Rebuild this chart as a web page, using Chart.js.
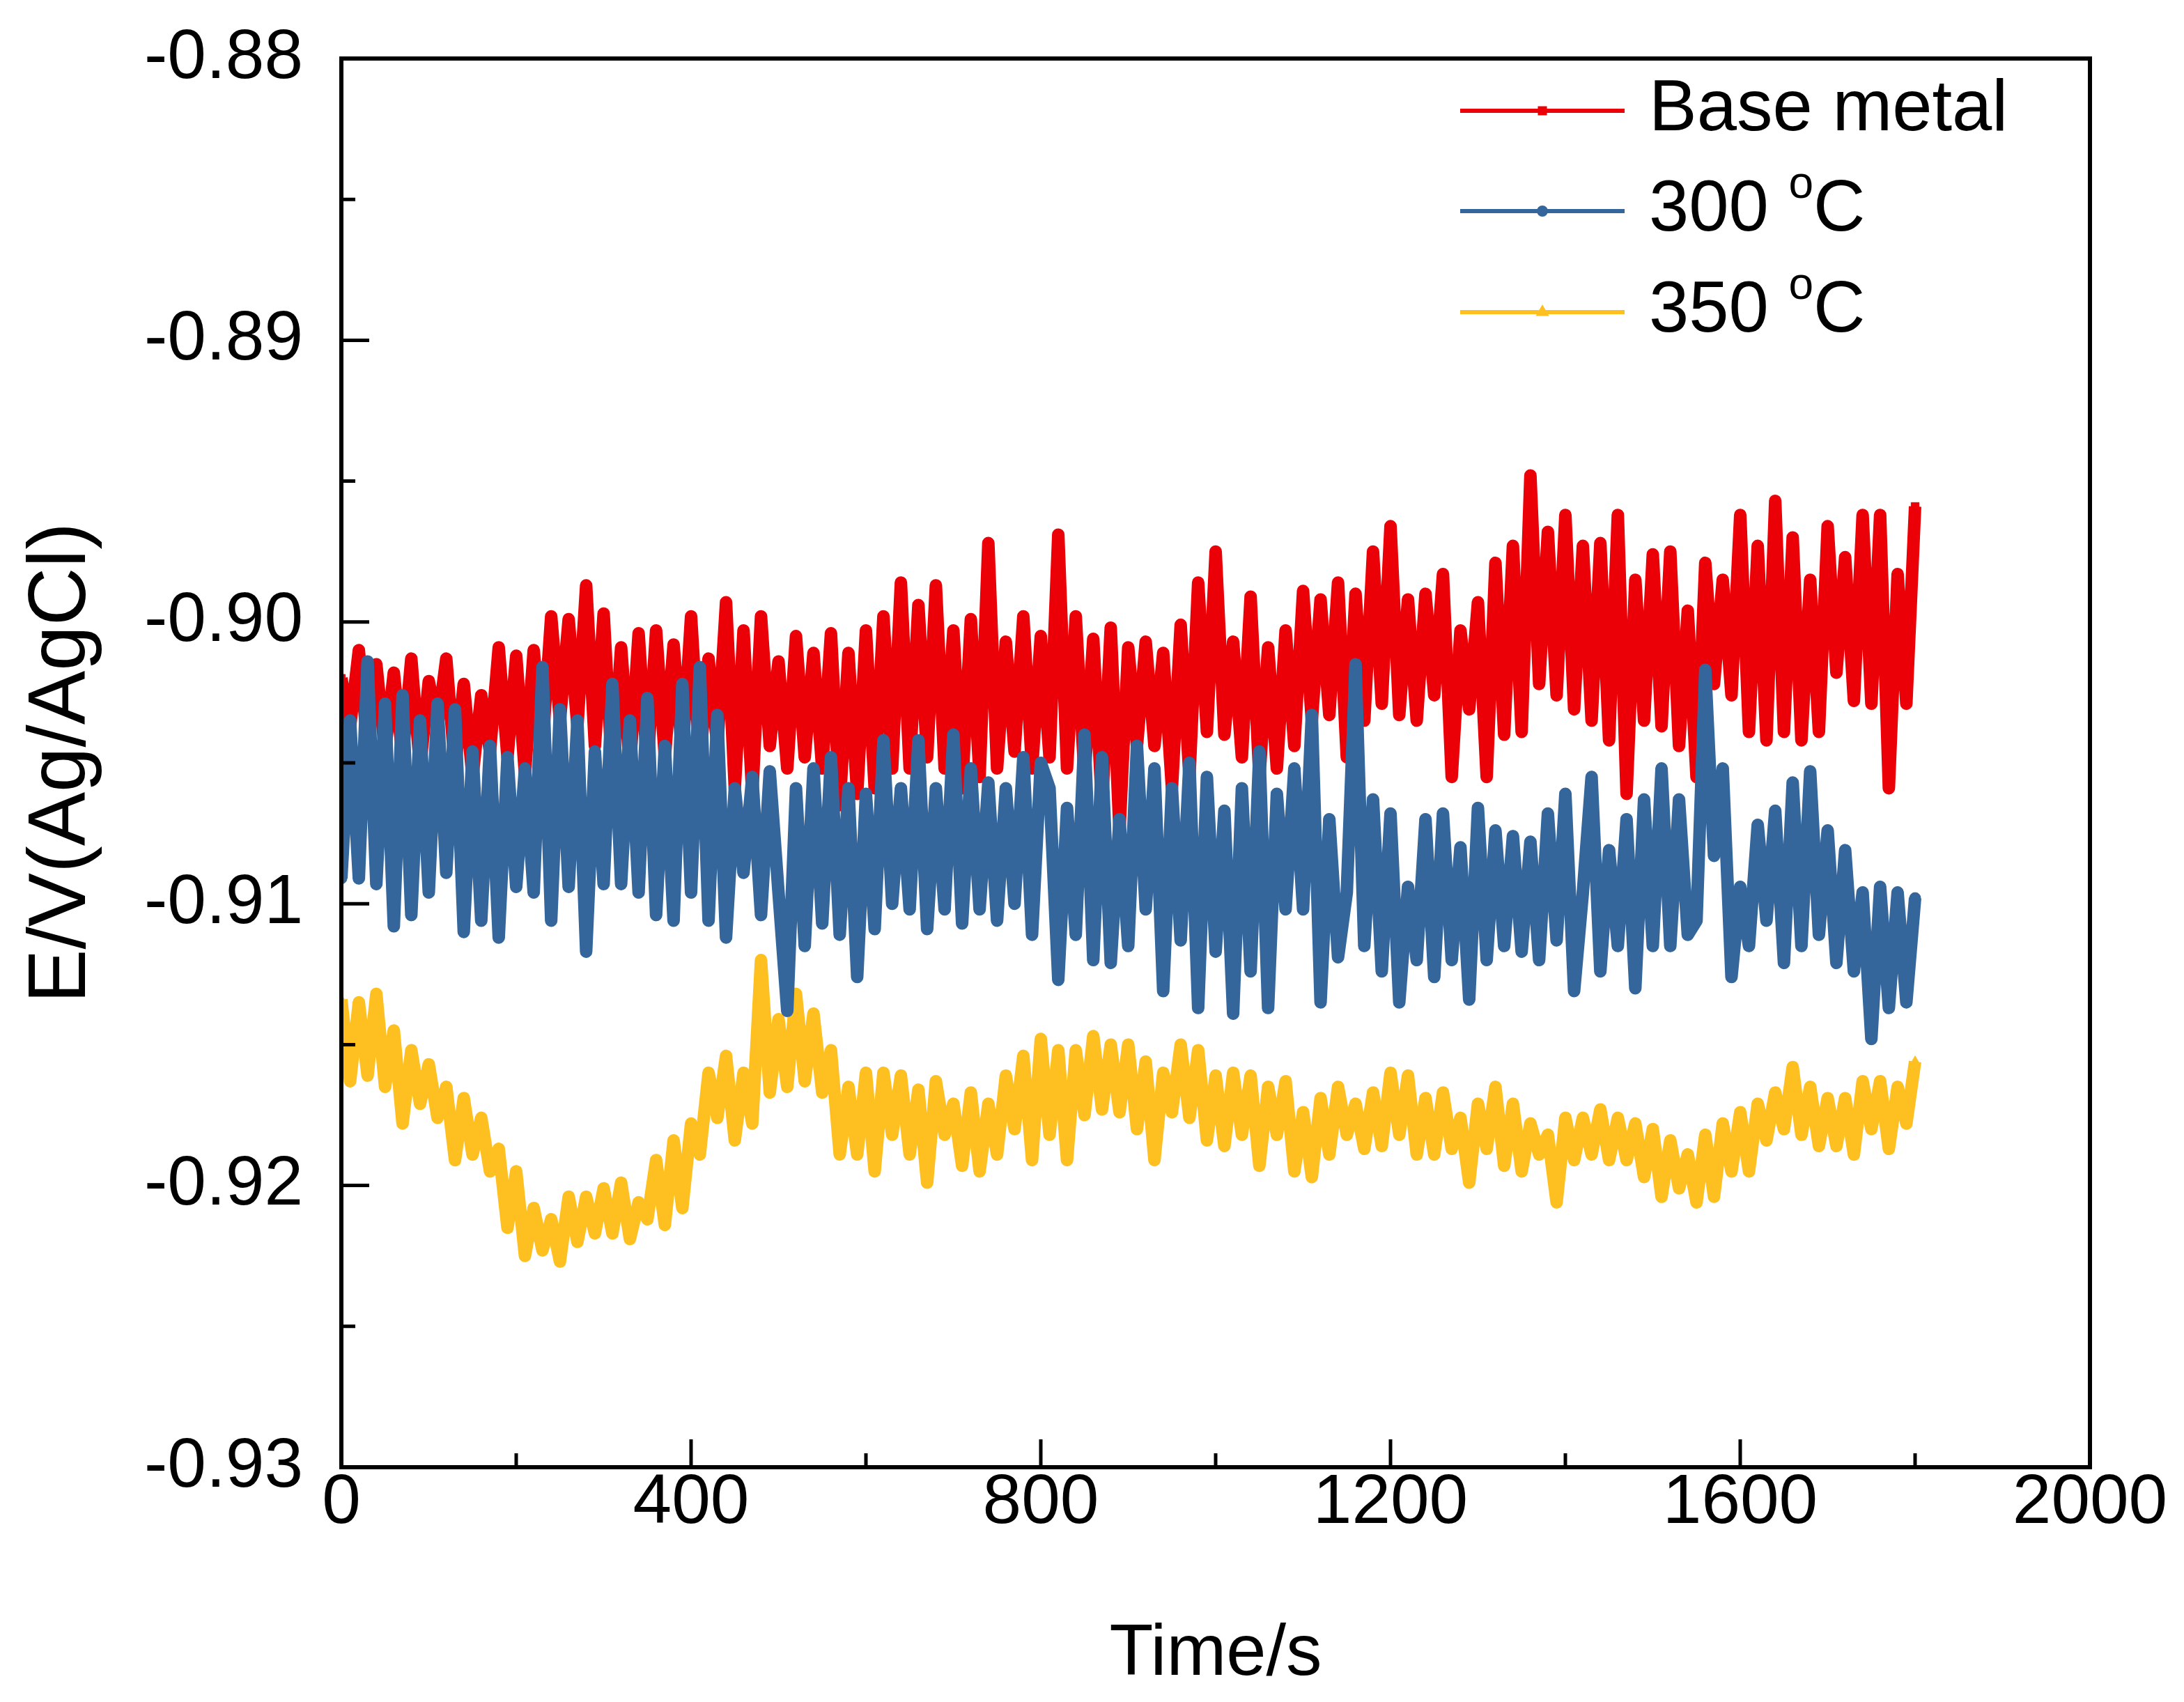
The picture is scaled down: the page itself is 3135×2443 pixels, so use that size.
<!DOCTYPE html>
<html>
<head>
<meta charset="utf-8">
<script src="https://cdn.jsdelivr.net/npm/chart.js@4.4.1/dist/chart.umd.min.js"></script>
<style>
  html, body { margin: 0; padding: 0; background: #fff; }
</style>
</head>
<body>
<canvas id="chart" width="3135" height="2443"></canvas>
<script>
// time stamps (s)
const timeSec = [
  0, 10, 20, 30, 40, 50, 60, 70, 80, 90, 100, 110, 120, 130, 140, 150, 160, 170, 180, 190,
  200, 210, 220, 230, 240, 250, 260, 270, 280, 290, 300, 310, 320, 330, 340, 350, 360, 370, 380, 390,
  400, 410, 420, 430, 440, 450, 460, 470, 480, 490, 500, 510, 520, 530, 540, 550, 560, 570, 580, 590,
  600, 610, 620, 630, 640, 650, 660, 670, 680, 690, 700, 710, 720, 730, 740, 750, 760, 770, 780, 790,
  800, 810, 820, 830, 840, 850, 860, 870, 880, 890, 900, 910, 920, 930, 940, 950, 960, 970, 980, 990,
  1000, 1010, 1020, 1030, 1040, 1050, 1060, 1070, 1080, 1090, 1100, 1110, 1120, 1130, 1140, 1150, 1160, 1170, 1180, 1190,
  1200, 1210, 1220, 1230, 1240, 1250, 1260, 1270, 1280, 1290, 1300, 1310, 1320, 1330, 1340, 1350, 1360, 1370, 1380, 1390,
  1400, 1410, 1420, 1430, 1440, 1450, 1460, 1470, 1480, 1490, 1500, 1510, 1520, 1530, 1540, 1550, 1560, 1570, 1580, 1590,
  1600, 1610, 1620, 1630, 1640, 1650, 1660, 1670, 1680, 1690, 1700, 1710, 1720, 1730, 1740, 1750, 1760, 1770, 1780, 1790,
  1800
];

// E/V(Ag/AgCl) for each sample
const baseMetal = [
  -0.9020, -0.9037, -0.9010, -0.9044, -0.9015, -0.9046, -0.9018, -0.9048, -0.9013, -0.9052,
  -0.9021, -0.9037, -0.9013, -0.9052, -0.9022, -0.9055, -0.9026, -0.9046, -0.9009, -0.9048,
  -0.9012, -0.9054, -0.9010, -0.9044, -0.8998, -0.9035, -0.8999, -0.9037, -0.8987, -0.9044,
  -0.8997, -0.9055, -0.9009, -0.9052, -0.9004, -0.9052, -0.9003, -0.9048, -0.9008, -0.9048,
  -0.8998, -0.9050, -0.9013, -0.9044, -0.8993, -0.9059, -0.9003, -0.9061, -0.8998, -0.9044,
  -0.9014, -0.9052, -0.9005, -0.9048, -0.9011, -0.9052, -0.9004, -0.9065, -0.9011, -0.9061,
  -0.9003, -0.9059, -0.8998, -0.9052, -0.8986, -0.9052, -0.8994, -0.9048, -0.8987, -0.9052,
  -0.9003, -0.9059, -0.8999, -0.9055, -0.8972, -0.9052, -0.9007, -0.9046, -0.8998, -0.9052,
  -0.9005, -0.9048, -0.8969, -0.9052, -0.8998, -0.9055, -0.9006, -0.9065, -0.9002, -0.9074,
  -0.9009, -0.9044, -0.9007, -0.9044, -0.9011, -0.9059, -0.9001, -0.9055, -0.8986, -0.9039,
  -0.8975, -0.9040, -0.9007, -0.9048, -0.8991, -0.9055, -0.9009, -0.9052, -0.9003, -0.9044,
  -0.8989, -0.9035, -0.8992, -0.9033, -0.8986, -0.9048, -0.8990, -0.9035, -0.8975, -0.9029,
  -0.8966, -0.9033, -0.8992, -0.9035, -0.8990, -0.9026, -0.8983, -0.9055, -0.9003, -0.9031,
  -0.8993, -0.9055, -0.8979, -0.9040, -0.8973, -0.9039, -0.8948, -0.9022, -0.8968, -0.9026,
  -0.8962, -0.9031, -0.8973, -0.9035, -0.8972, -0.9042, -0.8962, -0.9061, -0.8985, -0.9035,
  -0.8976, -0.9037, -0.8975, -0.9044, -0.8996, -0.9055, -0.8979, -0.9022, -0.8985, -0.9026,
  -0.8962, -0.9039, -0.8973, -0.9042, -0.8957, -0.9039, -0.8970, -0.9042, -0.8985, -0.9039,
  -0.8966, -0.9018, -0.8977, -0.9028, -0.8962, -0.9029, -0.8962, -0.9059, -0.8983, -0.9029,
  -0.8959
];

const temp300 = [
  -0.9091, -0.9035, -0.9091, -0.9014, -0.9093, -0.9029, -0.9108, -0.9026, -0.9104, -0.9035,
  -0.9096, -0.9029, -0.9089, -0.9031, -0.9110, -0.9046, -0.9106, -0.9044, -0.9112, -0.9048,
  -0.9094, -0.9052, -0.9096, -0.9016, -0.9106, -0.9031, -0.9094, -0.9035, -0.9117, -0.9046,
  -0.9093, -0.9022, -0.9093, -0.9035, -0.9096, -0.9027, -0.9104, -0.9044, -0.9106, -0.9022,
  -0.9096, -0.9016, -0.9106, -0.9033, -0.9112, -0.9059, -0.9089, -0.9055, -0.9104, -0.9053,
  -0.9096, -0.9138, -0.9059, -0.9115, -0.9052, -0.9107, -0.9048, -0.9111, -0.9059, -0.9126,
  -0.9061, -0.9109, -0.9042, -0.9100, -0.9059, -0.9102, -0.9042, -0.9109, -0.9059, -0.9102,
  -0.9040, -0.9107, -0.9052, -0.9102, -0.9057, -0.9106, -0.9059, -0.9100, -0.9048, -0.9111,
  -0.9050, -0.9059, -0.9127, -0.9066, -0.9111, -0.9040, -0.9120, -0.9048, -0.9121, -0.9070,
  -0.9115, -0.9044, -0.9102, -0.9052, -0.9131, -0.9059, -0.9113, -0.9050, -0.9137, -0.9055,
  -0.9117, -0.9067, -0.9139, -0.9059, -0.9124, -0.9046, -0.9137, -0.9061, -0.9102, -0.9052,
  -0.9102, -0.9033, -0.9135, -0.9070, -0.9119, -0.9096, -0.9015, -0.9115, -0.9063, -0.9124,
  -0.9068, -0.9135, -0.9094, -0.9120, -0.9070, -0.9126, -0.9068, -0.9120, -0.9080, -0.9134,
  -0.9066, -0.9120, -0.9074, -0.9115, -0.9076, -0.9117, -0.9078, -0.9120, -0.9068, -0.9113,
  -0.9061, -0.9131, -0.9096, -0.9055, -0.9124, -0.9081, -0.9115, -0.9070, -0.9130, -0.9063,
  -0.9115, -0.9052, -0.9115, -0.9063, -0.9111, -0.9106, -0.9017, -0.9083, -0.9052, -0.9126,
  -0.9094, -0.9115, -0.9072, -0.9106, -0.9067, -0.9121, -0.9057, -0.9115, -0.9053, -0.9111,
  -0.9074, -0.9121, -0.9081, -0.9124, -0.9096, -0.9148, -0.9094, -0.9137, -0.9096, -0.9135,
  -0.9098
];

const temp350 = [
  -0.9134, -0.9163, -0.9135, -0.9161, -0.9132, -0.9165, -0.9145, -0.9178, -0.9152, -0.9171,
  -0.9157, -0.9176, -0.9165, -0.9191, -0.9169, -0.9189, -0.9176, -0.9195, -0.9187, -0.9215,
  -0.9195, -0.9225, -0.9208, -0.9223, -0.9212, -0.9227, -0.9204, -0.9220, -0.9204, -0.9217,
  -0.9201, -0.9217, -0.9199, -0.9219, -0.9206, -0.9212, -0.9191, -0.9214, -0.9184, -0.9208,
  -0.9178, -0.9189, -0.9160, -0.9176, -0.9154, -0.9184, -0.9160, -0.9178, -0.9120, -0.9167,
  -0.9141, -0.9165, -0.9132, -0.9163, -0.9139, -0.9167, -0.9152, -0.9189, -0.9165, -0.9189,
  -0.9160, -0.9195, -0.9160, -0.9182, -0.9161, -0.9189, -0.9166, -0.9199, -0.9163, -0.9182,
  -0.9171, -0.9193, -0.9167, -0.9195, -0.9171, -0.9189, -0.9161, -0.9180, -0.9154, -0.9191,
  -0.9148, -0.9182, -0.9152, -0.9191, -0.9152, -0.9175, -0.9147, -0.9173, -0.9150, -0.9174,
  -0.9150, -0.9180, -0.9156, -0.9191, -0.9160, -0.9174, -0.9150, -0.9176, -0.9152, -0.9184,
  -0.9161, -0.9186, -0.9160, -0.9182, -0.9161, -0.9193, -0.9165, -0.9182, -0.9163, -0.9195,
  -0.9174, -0.9197, -0.9169, -0.9189, -0.9165, -0.9182, -0.9171, -0.9187, -0.9167, -0.9186,
  -0.9160, -0.9182, -0.9161, -0.9189, -0.9169, -0.9189, -0.9167, -0.9187, -0.9176, -0.9199,
  -0.9171, -0.9187, -0.9165, -0.9193, -0.9171, -0.9195, -0.9178, -0.9189, -0.9182, -0.9206,
  -0.9176, -0.9191, -0.9176, -0.9189, -0.9173, -0.9191, -0.9176, -0.9191, -0.9178, -0.9197,
  -0.9180, -0.9204, -0.9184, -0.9201, -0.9189, -0.9206, -0.9182, -0.9204, -0.9178, -0.9195,
  -0.9174, -0.9195, -0.9171, -0.9184, -0.9167, -0.9180, -0.9158, -0.9182, -0.9165, -0.9186,
  -0.9169, -0.9186, -0.9169, -0.9189, -0.9163, -0.9180, -0.9163, -0.9187, -0.9165, -0.9178,
  -0.9156
];

const seriesNames = ['Base metal', '300 °C', '350 °C'];
const seriesColors = ['rgb(236,0,8)', 'rgb(52,102,156)', 'rgb(254,192,32)'];
const seriesMarkers = ['rect', 'circle', 'triangle'];

const xTicks = [0, 400, 800, 1200, 1600, 2000];
const xMinorTicks = [200, 600, 1000, 1400, 1800];
const yTicks = [-0.93, -0.92, -0.91, -0.90, -0.89, -0.88];
const yMinorTicks = [-0.925, -0.915, -0.905, -0.895, -0.885];

const FONT = 'Liberation Sans, Arial, sans-serif';

const toPoints = (vals) => vals.map((v, i) => ({ x: timeSec[i], y: v }));

// Origin-style frame, inward ticks and legend
const framePlugin = {
  id: 'frame',
  afterDraw(chart) {
    const { ctx, chartArea: ca, scales } = chart;
    ctx.save();
    ctx.strokeStyle = '#000';
    ctx.lineCap = 'butt';

    ctx.lineWidth = 5;
    ctx.beginPath();
    yTicks.forEach(v => {
      const y = scales.y.getPixelForValue(v);
      ctx.moveTo(ca.left, y); ctx.lineTo(ca.left + 40, y);
    });
    yMinorTicks.forEach(v => {
      const y = scales.y.getPixelForValue(v);
      ctx.moveTo(ca.left, y); ctx.lineTo(ca.left + 20, y);
    });
    xTicks.forEach(v => {
      const x = scales.x.getPixelForValue(v);
      ctx.moveTo(x, ca.bottom); ctx.lineTo(x, ca.bottom - 40);
    });
    xMinorTicks.forEach(v => {
      const x = scales.x.getPixelForValue(v);
      ctx.moveTo(x, ca.bottom); ctx.lineTo(x, ca.bottom - 20);
    });
    ctx.stroke();

    ctx.lineWidth = 6;
    ctx.strokeRect(ca.left, ca.top, ca.right - ca.left, ca.bottom - ca.top);

    // legend
    const x0 = ca.right - 904;
    const rowY = [ca.top + 75, ca.top + 219, ca.top + 364];
    seriesNames.forEach((name, i) => {
      const y = rowY[i];
      ctx.strokeStyle = seriesColors[i];
      ctx.fillStyle = seriesColors[i];
      ctx.lineWidth = 6;
      ctx.beginPath();
      ctx.moveTo(x0, y); ctx.lineTo(x0 + 236, y);
      ctx.stroke();
      Chart.helpers.drawPoint(ctx, { pointStyle: seriesMarkers[i], radius: 5, borderWidth: 1 }, x0 + 118, y);

      ctx.fillStyle = '#000';
      ctx.textBaseline = 'middle';
      ctx.textAlign = 'left';
      let tx = x0 + 271;
      const parts = name.split('°');
      ctx.font = '103px ' + FONT;
      ctx.fillText(parts[0], tx, y);
      tx += ctx.measureText(parts[0]).width;
      if (parts.length > 1) {
        ctx.font = '64px ' + FONT;
        ctx.fillText('o', tx, y - 37);
        tx += ctx.measureText('o').width;
        ctx.font = '103px ' + FONT;
        ctx.fillText(parts[1], tx, y);
      }
    });
    ctx.restore();
  }
};

const datasets = [baseMetal, temp300, temp350].map((vals, i) => ({
  label: seriesNames[i],
  data: toPoints(vals),
  borderColor: seriesColors[i],
  backgroundColor: seriesColors[i],
  borderWidth: 18,
  borderJoinStyle: 'round',
  pointStyle: seriesMarkers[i],
  pointRadius: 8,
  pointBorderWidth: 1,
  tension: 0,
  order: [3, 1, 2][i]
}));

new Chart(document.getElementById('chart'), {
  type: 'line',
  data: { datasets },
  options: {
    responsive: false,
    animation: false,
    devicePixelRatio: 1,
    layout: { padding: { top: 84, right: 135, left: 0, bottom: 0 } },
    plugins: {
      legend: { display: false },
      tooltip: { enabled: false }
    },
    scales: {
      x: {
        type: 'linear',
        min: 0,
        max: 2000,
        afterFit: (s) => { s.height = 337; },
        afterBuildTicks: (s) => { s.ticks = xTicks.map(v => ({ value: v })); },
        grid: { display: false, drawTicks: true, tickLength: 0 },
        border: { display: false },
        ticks: {
          autoSkip: false,
          maxRotation: 0,
          padding: 2,
          color: '#000',
          font: { family: FONT, size: 100, lineHeight: 1.0 },
          callback: (v) => String(v)
        },
        title: {
          display: true,
          text: 'Time/s',
          color: '#000',
          font: { family: FONT, size: 103 },
          padding: { top: 0, bottom: 6 }
        }
      },
      y: {
        type: 'linear',
        min: -0.93,
        max: -0.88,
        afterFit: (s) => { s.width = 490; },
        afterBuildTicks: (s) => { s.ticks = yTicks.map(v => ({ value: v })); },
        grid: { display: false, drawTicks: true, tickLength: 55 },
        border: { display: false },
        ticks: {
          padding: 0,
          color: '#000',
          font: { family: FONT, size: 100 },
          callback: (v) => v.toFixed(2)
        },
        title: {
          display: true,
          text: 'E/V(Ag/AgCl)',
          color: '#000',
          font: { family: FONT, size: 116 },
          padding: { top: 20, bottom: 0 }
        }
      }
    }
  },
  plugins: [framePlugin]
});
</script>
</body>
</html>
